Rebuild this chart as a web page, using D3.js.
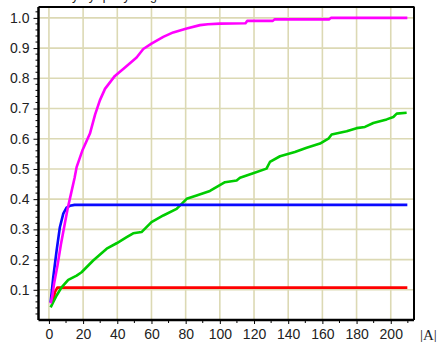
<!DOCTYPE html>
<html><head><meta charset="utf-8">
<script src="https://cdn.jsdelivr.net/npm/d3@7"></script>
<style>html,body{margin:0;padding:0;background:#fff;}svg{display:block;}</style>
</head><body>
<svg id="c" width="441" height="342"></svg>
<script>
const titleText = "Probability by query length";
const xLabel = "|A|";
const xTicks = [0,20,40,60,80,100,120,140,160,180,200];
const yTicks = [0.1,0.2,0.3,0.4,0.5,0.6,0.7,0.8,0.9,1.0];

const magentaX = [1,2,3,5,7,9,11,13,15,16.2,19.5,24,27,29.8,32.8,38.6,44.5,51.3,55.2,60,66.9,72.7,80.6,88.4,93,100,115,116,131,132,164,165,209.7];
const magentaY = [0.055,0.08,0.12,0.18,0.25,0.31,0.37,0.42,0.47,0.506,0.56,0.617,0.68,0.727,0.765,0.808,0.836,0.869,0.897,0.915,0.937,0.952,0.965,0.976,0.979,0.981,0.982,0.99,0.99,0.995,0.995,1.0,1.0];

const blueX = [1,2.5,4.5,6.4,8.4,10.3,12.3,15,209.7];
const blueY = [0.058,0.14,0.23,0.307,0.352,0.372,0.378,0.381,0.381];

const redX = [1,2.5,3.5,4.9,209.7];
const redY = [0.058,0.064,0.092,0.107,0.107];

const greenX = [1,2.5,4.5,7.4,11.3,16.2,19.1,25.9,33.8,39.6,45.5,49.3,54.2,60,66.9,74.7,80.6,86.4,94.2,103,109.8,111.8,119.5,127.3,129.3,135.2,143.9,150.8,158.6,163.5,165.4,174.2,180,184.9,189.8,197.6,201.5,203.5,209.3];
const greenY = [0.042,0.059,0.081,0.108,0.133,0.147,0.158,0.197,0.236,0.254,0.274,0.287,0.291,0.324,0.346,0.368,0.401,0.412,0.427,0.456,0.462,0.471,0.486,0.501,0.523,0.542,0.556,0.570,0.584,0.600,0.614,0.625,0.635,0.639,0.652,0.664,0.672,0.683,0.686];

const svg = d3.select("#c");
const x = d3.scaleLinear().domain([-6.1, 213.6]).range([38.5, 414]);
const y = d3.scaleLinear().domain([0, 1.036]).range([320, 7]);
const gridColor = "#dcd9b4";

// grid
svg.append("g").selectAll("line").data(xTicks).join("line")
  .attr("x1", d => x(d)).attr("x2", d => x(d)).attr("y1", 7).attr("y2", 320)
  .attr("stroke", gridColor).attr("stroke-width", 1.6);
svg.append("g").selectAll("line").data(yTicks).join("line")
  .attr("x1", 38.5).attr("x2", 414).attr("y1", d => y(d)).attr("y2", d => y(d))
  .attr("stroke", gridColor).attr("stroke-width", 1.6);

// series
const series = [
  {xs: redX, ys: redY, c: "#ff0000"},
  {xs: greenX, ys: greenY, c: "#00cc00"},
  {xs: blueX, ys: blueY, c: "#0a0aff"},
  {xs: magentaX, ys: magentaY, c: "#ff00ff"}
];
const line = d3.line().x(d => x(d[0])).y(d => y(d[1]));
series.forEach(s => {
  const pts = s.xs.map((v, i) => [v, s.ys[i]]);
  svg.append("path").attr("d", line(pts)).attr("fill", "none")
    .attr("stroke", s.c).attr("stroke-width", 2.6).attr("stroke-linejoin", "round");
});

// frame top/right
svg.append("line").attr("x1", 38.5).attr("x2", 414.5).attr("y1", 7).attr("y2", 7).attr("stroke", "#000").attr("stroke-width", 2);
svg.append("line").attr("x1", 414).attr("x2", 414).attr("y1", 7).attr("y2", 320).attr("stroke", "#000").attr("stroke-width", 2);

// axes
const fontFam = "'Liberation Sans', Arial, sans-serif";
const yAxis = d3.axisLeft(y).tickValues(yTicks).tickFormat(d3.format(".1f")).tickSize(5).tickPadding(4);
const gy = svg.append("g").attr("transform", "translate(38.5,0)").call(yAxis);
const yMinor = d3.range(0.02, 1.03, 0.02).filter(v => Math.abs(v*10 - Math.round(v*10)) > 1e-6);
gy.selectAll(".minor").data(yMinor).join("line").attr("class", "minor")
  .attr("x1", -3).attr("x2", 0).attr("y1", d => y(d)).attr("y2", d => y(d)).attr("stroke", "#000");

const xAxis = d3.axisBottom(x).tickValues(xTicks).tickSize(4).tickPadding(5);
const gx = svg.append("g").attr("transform", "translate(0,320)").call(xAxis);
gx.selectAll(".minor").data(d3.range(10, 211, 20)).join("line").attr("class", "minor")
  .attr("x1", d => x(d)).attr("x2", d => x(d)).attr("y1", 0).attr("y2", 3).attr("stroke", "#000");

[gx, gy].forEach(g => {
  g.select(".domain").attr("stroke", "#000").attr("stroke-width", 2.5);
  g.selectAll(".tick line").attr("stroke", "#000");
  g.selectAll("text").attr("font-family", fontFam).attr("font-size", 14).attr("fill", "#222");
});
gy.select(".domain").attr("d", "M0,7V320");
gx.select(".domain").attr("d", "M38.5,0H414");

// x label
svg.append("text").attr("x", 420).attr("y", 340).text(xLabel)
  .attr("font-family", "'Liberation Serif', 'Times New Roman', serif").attr("font-size", 15).attr("fill", "#222");

// cut-off title
svg.append("text").attr("x", 20).attr("y", -0.5).text(titleText)
  .attr("font-family", fontFam).attr("font-size", 12.5).attr("fill", "#222");
</script>
</body></html>
